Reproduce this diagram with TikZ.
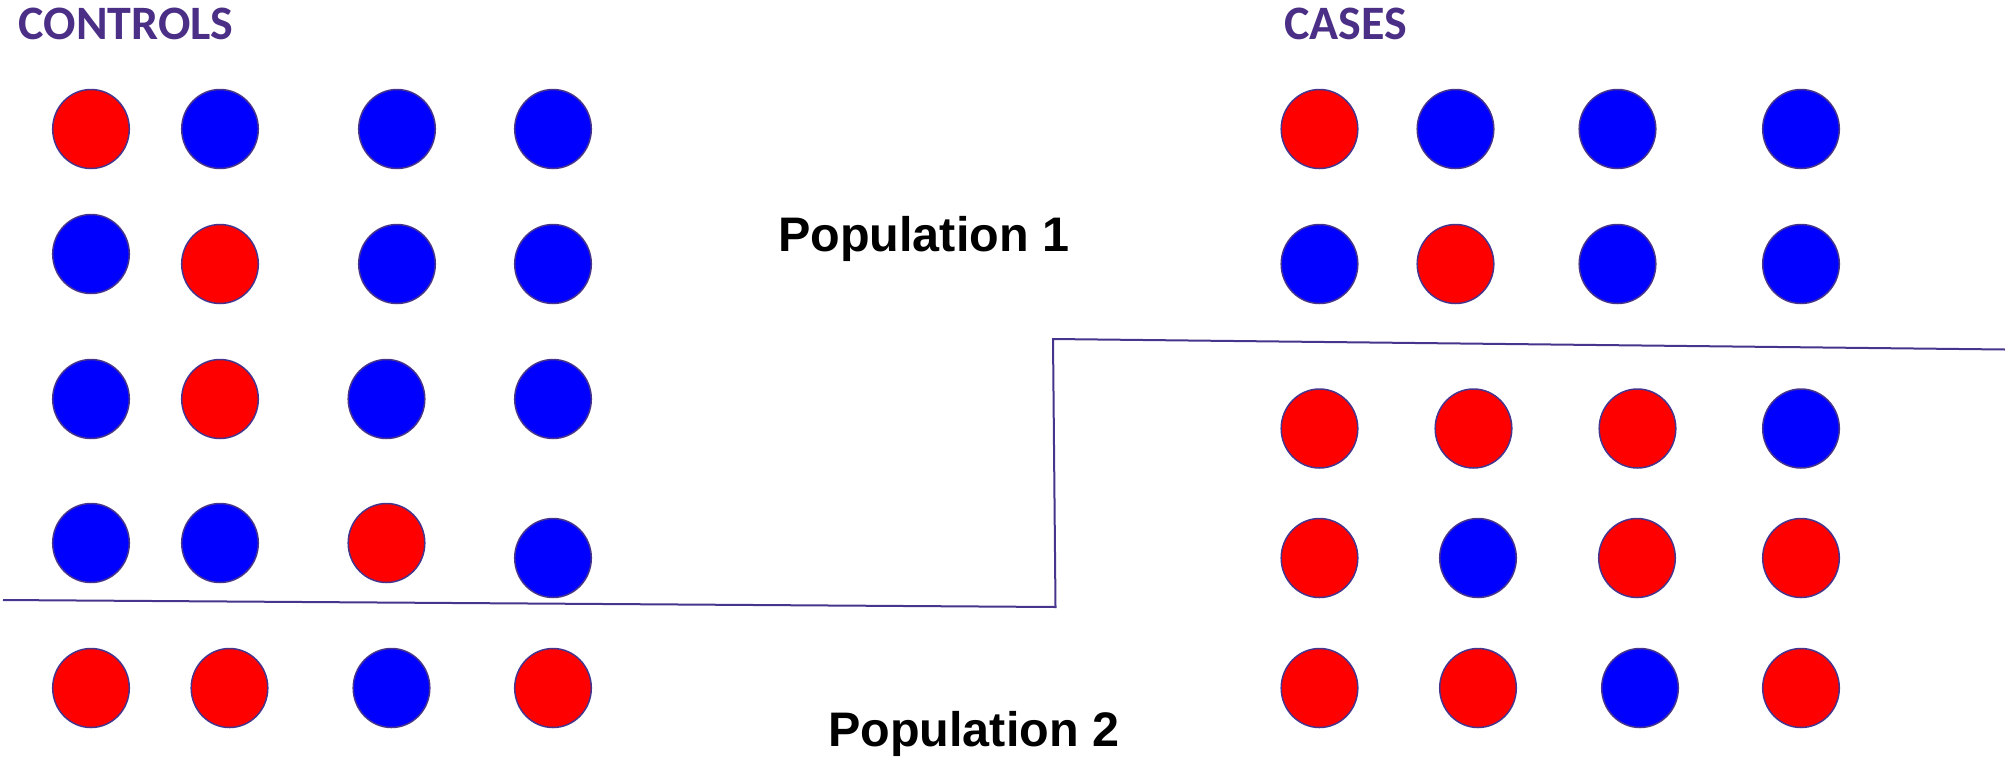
\documentclass[tikz,border=0pt]{standalone}
\usepackage{fontspec}
\setmainfont{Liberation Sans}
\newfontfamily\calfont{Carlito}
\usetikzlibrary{shapes.geometric}
\definecolor{edgepurple}{HTML}{47348C}
\definecolor{titlepurple}{HTML}{4B2E85}
\definecolor{dotred}{HTML}{FF0000}
\definecolor{dotblue}{HTML}{0000FF}
\tikzset{
  dot/.style={ellipse, draw=edgepurple, line width=1.5pt, minimum width=76.6pt, minimum height=79pt, inner sep=0pt},
  rdot/.style={dot, fill=dotred},
  bdot/.style={dot, fill=dotblue},
  grouptitle/.style={anchor=base west, inner sep=0pt, text=titlepurple, font=\calfont\bfseries\fontsize{48}{56}\selectfont},
  poplabel/.style={anchor=base west, inner sep=0pt, text=black, font=\bfseries\fontsize{48.5}{58}\selectfont},
  divider/.style={draw=edgepurple, line width=2pt, line join=miter}
}
\begin{document}
\begin{tikzpicture}[x=1pt,y=-1pt]
\useasboundingbox (0,0) rectangle (2005,756);
% titles
\node[grouptitle] (tcontrols) at (18.5,39.3) {CONTROLS};
\node[grouptitle] (tcases) at (1284,39.3) {CASES};
\node[poplabel] (pop1) at (778,251) {Population 1};
\node[poplabel] (pop2) at (828,746) {Population 2};
% controls
\node[rdot] (a11) at (91,129) {};
\node[bdot] (a12) at (220,129) {};
\node[bdot] (a13) at (397,129) {};
\node[bdot] (a14) at (553,129) {};
\node[bdot] (a21) at (91,254) {};
\node[rdot] (a22) at (220,264) {};
\node[bdot] (a23) at (397,264) {};
\node[bdot] (a24) at (553,264) {};
\node[bdot] (a31) at (91,399) {};
\node[rdot] (a32) at (220,399) {};
\node[bdot] (a33) at (386.5,399) {};
\node[bdot] (a34) at (553,399) {};
\node[bdot] (a41) at (91,543) {};
\node[bdot] (a42) at (220,543) {};
\node[rdot] (a43) at (386.5,543) {};
\node[bdot] (a44) at (553,558) {};
\node[rdot] (a51) at (91,688) {};
\node[rdot] (a52) at (229.5,688) {};
\node[bdot] (a53) at (391.5,688) {};
\node[rdot] (a54) at (553,688) {};
% cases
\node[rdot] (b11) at (1319.5,129) {};
\node[bdot] (b12) at (1455.5,129) {};
\node[bdot] (b13) at (1617.5,129) {};
\node[bdot] (b14) at (1801,129) {};
\node[bdot] (b21) at (1319.5,264) {};
\node[rdot] (b22) at (1455.5,264) {};
\node[bdot] (b23) at (1617.5,264) {};
\node[bdot] (b24) at (1801,264) {};
\node[rdot] (b31) at (1319.5,428.5) {};
\node[rdot] (b32) at (1473.5,428.5) {};
\node[rdot] (b33) at (1637.5,428.5) {};
\node[bdot] (b34) at (1801,428.5) {};
\node[rdot] (b41) at (1319.5,558) {};
\node[bdot] (b42) at (1478,558) {};
\node[rdot] (b43) at (1637,558) {};
\node[rdot] (b44) at (1801,558) {};
\node[rdot] (b51) at (1319.5,688) {};
\node[rdot] (b52) at (1478,688) {};
\node[bdot] (b53) at (1640,688) {};
\node[rdot] (b54) at (1801,688) {};
% divider
\coordinate (d1) at (3,600);
\coordinate (d2) at (1055.5,607);
\coordinate (d3) at (1053,339);
\coordinate (d4) at (2005,349.5);
\draw[divider] (d1) -- (d2) -- (d3) -- (d4);
\end{tikzpicture}
\end{document}
